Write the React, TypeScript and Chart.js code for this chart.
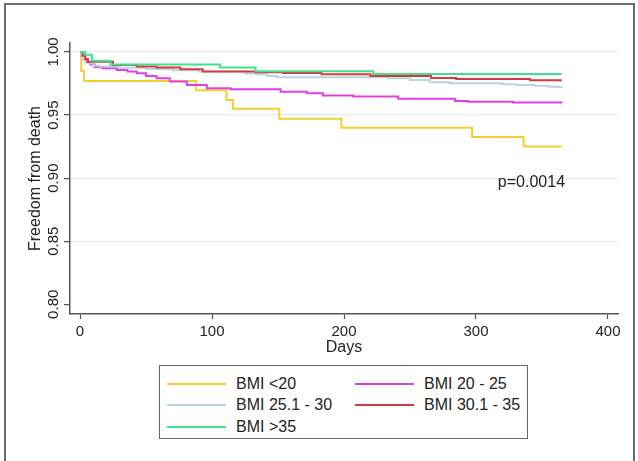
import React, { useEffect, useRef } from "react";
import { Chart, registerables } from "chart.js";

Chart.register(...registerables);

const seriesNames = ["BMI <20", "BMI 20 - 25", "BMI 25.1 - 30", "BMI 30.1 - 35", "BMI >35"];
const seriesColors = ["#f2d02e", "#e23fe2", "#b9d6e0", "#d63b3b", "#3fe28e"];

const bmiLt20Days = [0, 1, 3, 88, 111, 116, 151, 198, 297, 336, 365];
const bmiLt20Surv = [1.0, 0.985, 0.977, 0.9697, 0.962, 0.955, 0.947, 0.94, 0.9325, 0.925, 0.925];

const bmi20to25Days = [0, 1, 3, 5, 8, 11, 17, 28, 36, 43, 50, 58, 68, 81, 96, 114, 152, 172, 184, 207, 241, 284, 294, 328, 365];
const bmi20to25Surv = [1.0, 0.997, 0.994, 0.992, 0.99, 0.988, 0.987, 0.9857, 0.9845, 0.9831, 0.981, 0.9792, 0.9765, 0.9738, 0.9712, 0.9704, 0.9685, 0.9672, 0.9654, 0.9646, 0.963, 0.9612, 0.9605, 0.96, 0.9598];

const bmi25to30Days = [0, 1, 3, 6, 10, 15, 30, 50, 70, 90, 125, 134, 142, 149, 233, 250, 265, 280, 320, 330, 345, 355, 362, 365];
const bmi25to30Surv = [1.0, 0.997, 0.994, 0.991, 0.989, 0.9885, 0.9875, 0.9865, 0.9855, 0.9845, 0.983, 0.9823, 0.981, 0.98, 0.9792, 0.9778, 0.976, 0.9752, 0.9745, 0.9738, 0.9732, 0.9725, 0.972, 0.9715];

const bmi30to35Days = [0, 2, 4, 6, 25, 43, 58, 76, 93, 133, 154, 183, 220, 266, 285, 341, 365];
const bmi30to35Surv = [1.0, 0.997, 0.9945, 0.9923, 0.9897, 0.9884, 0.9876, 0.9863, 0.9845, 0.984, 0.9834, 0.9823, 0.981, 0.9793, 0.9786, 0.9776, 0.9776];

const bmiGt35Days = [0, 4, 9, 23, 106, 133, 222, 365];
const bmiGt35Surv = [1.0, 0.9977, 0.993, 0.99, 0.9876, 0.9847, 0.9825, 0.9825];

const seriesDays = [bmiLt20Days, bmi20to25Days, bmi25to30Days, bmi30to35Days, bmiGt35Days];
const seriesSurv = [bmiLt20Surv, bmi20to25Surv, bmi25to30Surv, bmi30to35Surv, bmiGt35Surv];

const xTicks = [0, 100, 200, 300, 400];
const yTicks = [0.8, 0.85, 0.9, 0.95, 1.0];
const xTitle = "Days";
const yTitle = "Freedom from death";
const pValueText = "p=0.0014";
const pValueDay = 342;
const pValueSurv = 0.8964;

const FONT = '"Liberation Sans", Arial, sans-serif';
const TEXT = "#222222";
const AXIS = "#555555";

const overlayPlugin = {
  id: "overlay",
  afterDraw(chart: any) {
    const { ctx } = chart;
    const x = chart.scales.x;
    const y = chart.scales.y;
    ctx.save();
    ctx.fillStyle = TEXT;
    ctx.font = `15px ${FONT}`;
    yTicks.forEach((v) => {
      const py = y.getPixelForValue(v);
      ctx.save();
      ctx.translate(y.right - 12, py);
      ctx.rotate(-Math.PI / 2);
      ctx.textAlign = "center";
      ctx.textBaseline = "alphabetic";
      ctx.fillText(v.toFixed(2), 0, 0);
      ctx.restore();
    });
    ctx.font = `16px ${FONT}`;
    ctx.textAlign = "center";
    ctx.textBaseline = "middle";
    ctx.fillText(pValueText, x.getPixelForValue(pValueDay), y.getPixelForValue(pValueSurv));
    ctx.restore();
  },
};

export default function App() {
  const canvasRef = useRef<HTMLCanvasElement | null>(null);

  useEffect(() => {
    if (!canvasRef.current) return;
    // draw order: later series on top
    const datasets = seriesNames
      .map((name, i) => ({
        label: name,
        data: seriesDays[i].map((d, j) => ({ x: d, y: seriesSurv[i][j] })),
        borderColor: seriesColors[i],
        backgroundColor: seriesColors[i],
        borderWidth: 2,
        pointRadius: 0,
        stepped: "before" as const,
        fill: false,
        order: seriesNames.length - i,
      }));

    const chart = new Chart(canvasRef.current, {
      type: "line",
      data: { datasets },
      plugins: [overlayPlugin],
      options: {
        animation: false,
        responsive: false,
        events: [],
        layout: { padding: { left: 0, top: 43, right: 20, bottom: 104 } },
        plugins: { legend: { display: false }, tooltip: { enabled: false } },
        scales: {
          x: {
            type: "linear",
            min: -7.58,
            max: 407.58,
            afterBuildTicks: (s: any) => {
              s.ticks = xTicks.map((v) => ({ value: v }));
            },
            afterFit: (s: any) => {
              s.height = 43;
              s.paddingLeft = 0;
              s.paddingRight = 0;
            },
            grid: {
              drawOnChartArea: false,
              drawTicks: true,
              tickLength: 5,
              tickColor: AXIS,
              tickWidth: 1.3,
            },
            border: { display: true, color: AXIS, width: 1.5 },
            ticks: {
              padding: 4,
              color: TEXT,
              font: { family: FONT, size: 15 },
              maxRotation: 0,
              minRotation: 0,
              callback: (v: any) => String(v),
            },
            title: {
              display: true,
              text: xTitle,
              color: TEXT,
              font: { family: FONT, size: 16 },
              padding: { top: 0, bottom: 0 },
            },
          },
          y: {
            type: "linear",
            min: 0.7923,
            max: 1.0071,
            afterBuildTicks: (s: any) => {
              s.ticks = yTicks.map((v) => ({ value: v }));
            },
            afterFit: (s: any) => {
              s.width = 70;
              s.paddingTop = 0;
              s.paddingBottom = 0;
            },
            grid: {
              drawOnChartArea: true,
              drawTicks: true,
              tickLength: 6,
              tickColor: AXIS,
              tickWidth: 1.3,
              color: (c: any) => (c.tick && Math.abs(c.tick.value - 0.8) < 1e-6 ? "rgba(0,0,0,0)" : "#e6eaee"),
              lineWidth: 1.2,
            },
            border: { display: true, color: AXIS, width: 1.5 },
            ticks: { display: false },
            title: {
              display: true,
              text: yTitle,
              color: TEXT,
              font: { family: FONT, size: 16 },
              padding: { top: 26, bottom: 0 },
            },
          },
        },
      },
    });
    return () => chart.destroy();
  }, []);

  const legendRowCenters = [17.5, 39, 60.5];
  return (
    <div style={{ position: "fixed", left: 0, top: 0, width: 638, height: 461, overflow: "hidden", background: "#fff" }}>
      <div
        style={{
          position: "absolute",
          left: 4,
          top: 3,
          width: 631,
          height: 520,
          border: "2px solid #6e6e6e",
          boxSizing: "border-box",
        }}
      />
      <canvas ref={canvasRef} width={638} height={461} style={{ position: "absolute", left: 0, top: 0, display: "block" }} />
      <div
        style={{
          position: "absolute",
          left: 159,
          top: 365,
          width: 369,
          height: 74,
          border: "1px solid #666",
          boxSizing: "border-box",
          background: "#fff",
          fontFamily: FONT,
          fontSize: 16,
          color: TEXT,
        }}
      >
        {seriesNames.map((name, i) => {
          const col = i % 2;
          const row = Math.floor(i / 2);
          const cy = legendRowCenters[row];
          return (
            <React.Fragment key={name}>
              <div
                style={{
                  position: "absolute",
                  left: col === 0 ? 7 : 195,
                  top: cy - 1,
                  width: 59,
                  height: 2,
                  background: seriesColors[i],
                }}
              />
              <div
                style={{
                  position: "absolute",
                  left: col === 0 ? 76 : 264,
                  top: cy - 10,
                  height: 20,
                  lineHeight: "20px",
                  whiteSpace: "nowrap",
                }}
              >
                {name}
              </div>
            </React.Fragment>
          );
        })}
      </div>
    </div>
  );
}
